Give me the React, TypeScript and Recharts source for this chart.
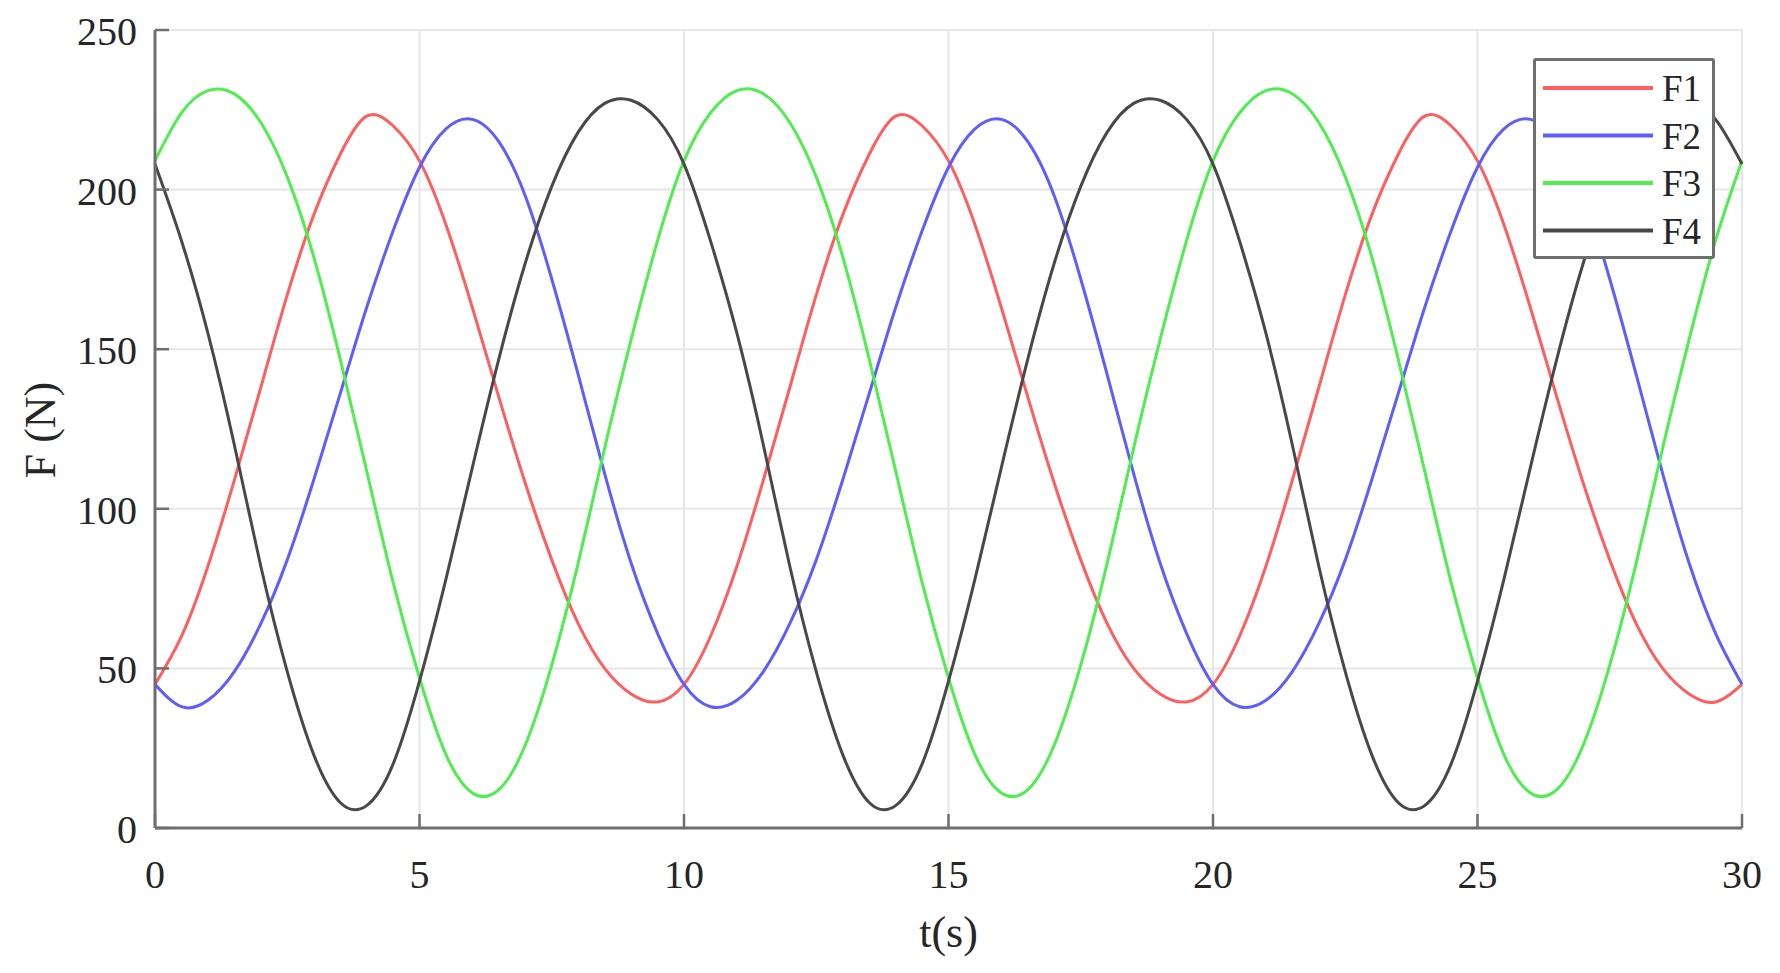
import React from "react";
import { LineChart, Line, XAxis, YAxis, CartesianGrid } from "recharts";

// time axis (s)
const T = [
  0, 0.5, 1, 1.5, 2, 2.5, 3, 3.5, 4, 4.5, 5, 5.5, 6, 6.5, 7, 7.5, 8, 8.5, 9, 9.5,
  10, 10.5, 11, 11.5, 12, 12.5, 13, 13.5, 14, 14.5, 15, 15.5, 16, 16.5, 17, 17.5, 18, 18.5, 19, 19.5,
  20, 20.5, 21, 21.5, 22, 22.5, 23, 23.5, 24, 24.5, 25, 25.5, 26, 26.5, 27, 27.5, 28, 28.5, 29, 29.5,
  30,
];

// forces (N)
const F1 = [
  45, 60, 82, 109, 138, 167, 192, 211, 223, 220, 209, 189, 163, 135, 108, 84, 64, 50, 42, 39.5,
  45, 60, 82, 109, 138, 167, 192, 211, 223, 220, 209, 189, 163, 135, 108, 84, 64, 50, 42, 39.5,
  45, 60, 82, 109, 138, 167, 192, 211, 223, 220, 209, 189, 163, 135, 108, 84, 64, 50, 42, 39.5,
  45,
];
const F2 = [
  45, 38, 40, 49, 64, 84, 109, 136, 163, 187, 207, 219, 222, 215, 198, 172, 142, 111, 83, 61,
  45, 38, 40, 49, 64, 84, 109, 136, 163, 187, 207, 219, 222, 215, 198, 172, 142, 111, 83, 61,
  45, 38, 40, 49, 64, 84, 109, 136, 163, 187, 207, 219, 222, 215, 198, 172, 142, 111, 83, 61,
  45,
];
const F3 = [
  209, 224, 231, 230, 221, 204, 179, 147, 112, 77, 47, 23, 11, 12, 26, 51, 83, 119, 153, 184,
  209, 224, 231, 230, 221, 204, 179, 147, 112, 77, 47, 23, 11, 12, 26, 51, 83, 119, 153, 184,
  209, 224, 231, 230, 221, 204, 179, 147, 112, 77, 47, 23, 11, 12, 26, 51, 83, 119, 153, 184,
  209,
];
const F4 = [
  208, 184, 155, 120, 82, 49, 23, 8, 7, 20, 46, 78, 113, 147, 177, 201, 218, 227, 228, 222,
  208, 184, 155, 120, 82, 49, 23, 8, 7, 20, 46, 78, 113, 147, 177, 201, 218, 227, 228, 222,
  208, 184, 155, 120, 82, 49, 23, 8, 7, 20, 46, 78, 113, 147, 177, 201, 218, 227, 228, 222,
  208,
];

const X_TICKS = [0, 5, 10, 15, 20, 25, 30];
const Y_TICKS = [0, 50, 100, 150, 200, 250];

const SERIES = [
  { key: "F1", color: "#ff5e5e" },
  { key: "F2", color: "#5e5eff" },
  { key: "F3", color: "#4eee4e" },
  { key: "F4", color: "#484848" },
];

const FONT = "'Liberation Serif', 'Times New Roman', serif";
const AXIS = "#6e6e6e";
const TEXT = "#262626";
const TICK_LEN = 14;

const data = T.map((t, i) => ({ t, F1: F1[i], F2: F2[i], F3: F3[i], F4: F4[i] }));

const BottomTick = ({ x, y, payload }: any) => (
  <g>
    <line x1={x} y1={y} x2={x} y2={y - TICK_LEN} stroke={AXIS} strokeWidth={2.5} />
    <text x={x} y={y + 60} textAnchor="middle" fontSize={40} fontFamily={FONT} fill={TEXT}>
      {payload.value}
    </text>
  </g>
);

const TopTick = ({ x, y }: any) => (
  <line x1={x} y1={y} x2={x} y2={y + TICK_LEN} stroke={AXIS} strokeWidth={2.5} />
);

const LeftTick = ({ x, y, payload }: any) => (
  <g>
    <line x1={x} y1={y} x2={x + TICK_LEN} y2={y} stroke={AXIS} strokeWidth={2.5} />
    <text x={x - 18} y={y + 15} textAnchor="end" fontSize={40} fontFamily={FONT} fill={TEXT}>
      {payload.value}
    </text>
  </g>
);

const RightTick = ({ x, y }: any) => (
  <line x1={x} y1={y} x2={x - TICK_LEN} y2={y} stroke={AXIS} strokeWidth={2.5} />
);

function LegendBox() {
  return (
    <div
      style={{
        position: "absolute",
        left: 1525,
        top: 50,
        width: 182,
        height: 201,
        boxSizing: "border-box",
        border: `3px solid ${AXIS}`,
        borderRadius: 3,
        background: "#fff",
      }}
    >
      <svg width={176} height={195}>
        {SERIES.map((s, i) => {
          const cy = 27 + i * 47.5;
          return (
            <g key={s.key}>
              <line x1={7} y1={cy} x2={117} y2={cy} stroke={s.color} strokeWidth={4} />
              <text x={126} y={cy + 13} fontSize={37} fontFamily={FONT} fill={TEXT}>
                {s.key}
              </text>
            </g>
          );
        })}
      </svg>
    </div>
  );
}

export default function App() {
  return (
    <div style={{ position: "relative", width: 1764, height: 957 }}>
      <LineChart width={1764} height={957} data={data} margin={{ top: 22, right: 30, left: 0, bottom: 0 }}>
        <CartesianGrid stroke="#e6e6e6" strokeWidth={2} />
        <XAxis
          dataKey="t"
          type="number"
          domain={[0, 30]}
          ticks={X_TICKS}
          interval={0}
          height={137}
          tickSize={0}
          tickMargin={0}
          tickLine={false}
          axisLine={{ stroke: AXIS, strokeWidth: 3 }}
          tick={<BottomTick />}
          label={{
            content: () => (
              <text x={940.5} y={939} textAnchor="middle" fontSize={44} fontFamily={FONT} fill={TEXT}>
                t(s)
              </text>
            ),
          }}
        />
        <XAxis
          xAxisId="top"
          orientation="top"
          dataKey="t"
          type="number"
          domain={[0, 30]}
          ticks={X_TICKS}
          interval={0}
          height={0}
          tickSize={0}
          tickMargin={0}
          tickLine={false}
          axisLine={{ stroke: AXIS, strokeWidth: 3 }}
          tick={<TopTick />}
        />
        <YAxis
          type="number"
          domain={[0, 250]}
          ticks={Y_TICKS}
          interval={0}
          width={147}
          tickSize={0}
          tickMargin={0}
          tickLine={false}
          axisLine={{ stroke: AXIS, strokeWidth: 3 }}
          tick={<LeftTick />}
          label={{
            content: () => (
              <text
                x={32}
                y={422}
                transform="rotate(-90 32 422)"
                textAnchor="middle"
                dominantBaseline="central"
                fontSize={44}
                fontFamily={FONT}
                fill={TEXT}
              >
                F (N)
              </text>
            ),
          }}
        />
        <YAxis
          yAxisId="right"
          orientation="right"
          type="number"
          domain={[0, 250]}
          ticks={Y_TICKS}
          interval={0}
          width={0}
          tickSize={0}
          tickMargin={0}
          tickLine={false}
          axisLine={{ stroke: AXIS, strokeWidth: 3 }}
          tick={<RightTick />}
        />
        {SERIES.map((s) => (
          <Line
            key={s.key}
            type="natural"
            dataKey={s.key}
            stroke={s.color}
            strokeWidth={3}
            dot={false}
            isAnimationActive={false}
          />
        ))}
      </LineChart>
      <LegendBox />
    </div>
  );
}
